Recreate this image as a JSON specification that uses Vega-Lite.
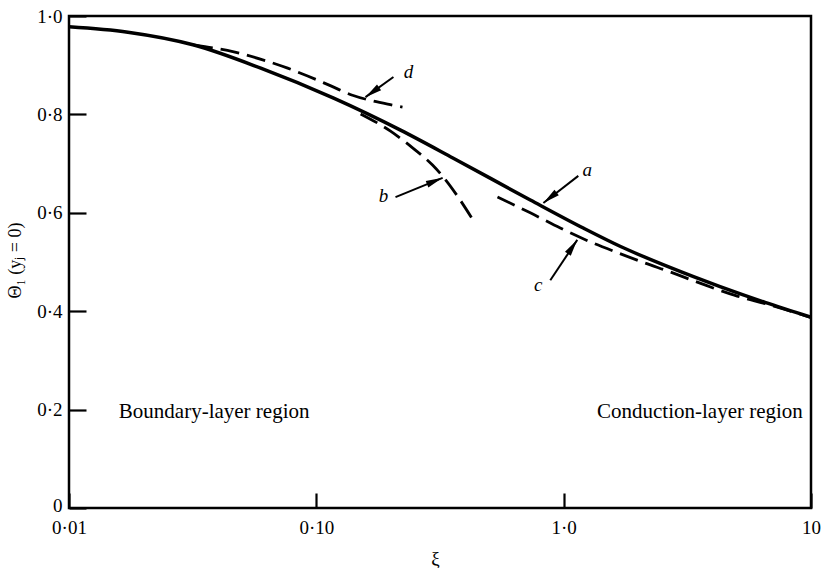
{
  "$schema": "https://vega.github.io/schema/vega-lite/v6.json",
  "width": 742,
  "height": 492,
  "autosize": {"type": "none"},
  "padding": {"left": 69, "top": 16, "right": 11, "bottom": 60},
  "background": "white",
  "config": {
    "view": {"stroke": "black", "strokeWidth": 2.5},
    "font": "Liberation Serif",
    "axis": {
      "grid": false,
      "domain": false,
      "ticks": true,
      "zindex": 1,
      "labelFont": "Liberation Serif",
      "labelFontSize": 19,
      "labelColor": "black",
      "tickColor": "black",
      "tickWidth": 2.2,
      "titleFont": "Liberation Serif",
      "titleFontWeight": "normal",
      "titleColor": "black",
      "labelFlush": false,
      "labelOverlap": false,
      "labelBound": false
    }
  },
  "datasets": {
    "curves": [
      {"curve": "a", "xi": 0.01, "theta": 0.978},
      {"curve": "a", "xi": 0.0173, "theta": 0.967},
      {"curve": "a", "xi": 0.032, "theta": 0.941},
      {"curve": "a", "xi": 0.0596, "theta": 0.894},
      {"curve": "a", "xi": 0.1175, "theta": 0.833},
      {"curve": "a", "xi": 0.219, "theta": 0.768},
      {"curve": "a", "xi": 0.358, "theta": 0.711},
      {"curve": "a", "xi": 0.733, "theta": 0.626},
      {"curve": "a", "xi": 1.2, "theta": 0.569},
      {"curve": "a", "xi": 1.69, "theta": 0.532},
      {"curve": "a", "xi": 2.69, "theta": 0.489},
      {"curve": "a", "xi": 4.29, "theta": 0.450},
      {"curve": "a", "xi": 6.52, "theta": 0.418},
      {"curve": "a", "xi": 10, "theta": 0.388},
      {"curve": "b", "xi": 0.151, "theta": 0.801},
      {"curve": "b", "xi": 0.1995, "theta": 0.766},
      {"curve": "b", "xi": 0.245, "theta": 0.732},
      {"curve": "b", "xi": 0.295, "theta": 0.697},
      {"curve": "b", "xi": 0.333, "theta": 0.667},
      {"curve": "b", "xi": 0.372, "theta": 0.634},
      {"curve": "b", "xi": 0.428, "theta": 0.587},
      {"curve": "c", "xi": 0.54, "theta": 0.632},
      {"curve": "c", "xi": 0.733, "theta": 0.6},
      {"curve": "c", "xi": 0.969, "theta": 0.569},
      {"curve": "c", "xi": 1.28, "theta": 0.541},
      {"curve": "c", "xi": 1.65, "theta": 0.519},
      {"curve": "c", "xi": 2.13, "theta": 0.498},
      {"curve": "c", "xi": 2.69, "theta": 0.48},
      {"curve": "c", "xi": 3.56, "theta": 0.457},
      {"curve": "c", "xi": 4.93, "theta": 0.432},
      {"curve": "c", "xi": 6.8, "theta": 0.413},
      {"curve": "c", "xi": 10, "theta": 0.387},
      {"curve": "d", "xi": 0.032, "theta": 0.941},
      {"curve": "d", "xi": 0.0464, "theta": 0.927},
      {"curve": "d", "xi": 0.0607, "theta": 0.911},
      {"curve": "d", "xi": 0.0766, "theta": 0.894},
      {"curve": "d", "xi": 0.0922, "theta": 0.878},
      {"curve": "d", "xi": 0.112, "theta": 0.86},
      {"curve": "d", "xi": 0.14, "theta": 0.839},
      {"curve": "d", "xi": 0.17, "theta": 0.827},
      {"curve": "d", "xi": 0.203, "theta": 0.819},
      {"curve": "d", "xi": 0.223, "theta": 0.815}
    ],
    "labels": [
      {"label": "a", "xi": 1.245, "theta": 0.687},
      {"label": "b", "xi": 0.187, "theta": 0.634},
      {"label": "c", "xi": 0.789, "theta": 0.453},
      {"label": "d", "xi": 0.236, "theta": 0.886}
    ],
    "arrows": [
      {"label": "a", "xi": 0.828, "theta": 0.62, "xi2": 1.146, "theta2": 0.675},
      {"label": "b", "xi": 0.324, "theta": 0.671, "xi2": 0.209, "theta2": 0.632},
      {"label": "c", "xi": 1.135, "theta": 0.545, "xi2": 0.883, "theta2": 0.463},
      {"label": "d", "xi": 0.158, "theta": 0.835, "xi2": 0.205, "theta2": 0.876}
    ],
    "regions": [
      {"side": "left", "text": "Boundary-layer region", "xi": 0.0159, "theta": 0.195},
      {"side": "right", "text": "Conduction-layer region", "xi": 9.27, "theta": 0.195}
    ]
  },
  "encoding": {
    "x": {
      "field": "xi",
      "type": "quantitative",
      "scale": {"type": "log", "domain": [0.01, 10], "nice": false},
      "axis": {
        "title": "ξ",
        "titleFontSize": 19,
        "titleX": 366,
        "titleY": 50,
        "titleBaseline": "middle",
        "values": [0.01, 0.1, 1, 10],
        "labelExpr": "datum.value < 0.05 ? '0·01' : datum.value < 0.5 ? '0·10' : datum.value < 5 ? '1·0' : '10'",
        "tickSize": -15,
        "labelPadding": 25
      }
    },
    "y": {
      "field": "theta",
      "type": "quantitative",
      "scale": {"domain": [0, 1], "nice": false, "zero": true},
      "axis": {
        "title": "Θ₁ (y\u2C7C = 0)",
        "titleFontSize": 18,
        "titleAngle": -90,
        "titleX": -71,
        "titleY": 244,
        "titleAlign": "center",
        "titleBaseline": "middle",
        "values": [0, 0.2, 0.4, 0.6, 0.8, 1],
        "labelExpr": "datum.value == 0 ? '0' : replace(format(datum.value, '.1f'), '.', '·')",
        "labelOffset": {"condition": {"test": "datum.value == 0", "value": -3}, "value": 0},
        "offset": -17,
        "tickSize": 17,
        "labelPadding": 7
      }
    }
  },
  "layer": [
    {
      "data": {"name": "curves"},
      "transform": [{"filter": "datum.curve == 'a'"}],
      "mark": {"type": "line", "color": "black", "strokeWidth": 3.5, "interpolate": "monotone"}
    },
    {
      "data": {"name": "curves"},
      "transform": [{"filter": "datum.curve != 'a'"}],
      "mark": {"type": "line", "color": "black", "strokeWidth": 2.8, "strokeDash": [19, 8], "interpolate": "monotone"},
      "encoding": {"detail": {"field": "curve"}}
    },
    {
      "data": {"name": "arrows"},
      "mark": {"type": "rule", "color": "black", "strokeWidth": 2},
      "encoding": {"x2": {"field": "xi2"}, "y2": {"field": "theta2"}}
    },
    {
      "data": {"name": "arrows"},
      "transform": [{"filter": "datum.label == 'a'"}],
      "mark": {"type": "point", "shape": "M0,0L0.5,2.4L-0.5,2.4Z", "filled": true, "color": "black", "opacity": 1, "size": 196, "angle": 232}
    },
    {
      "data": {"name": "arrows"},
      "transform": [{"filter": "datum.label == 'b'"}],
      "mark": {"type": "point", "shape": "M0,0L0.5,2.4L-0.5,2.4Z", "filled": true, "color": "black", "opacity": 1, "size": 196, "angle": 68}
    },
    {
      "data": {"name": "arrows"},
      "transform": [{"filter": "datum.label == 'c'"}],
      "mark": {"type": "point", "shape": "M0,0L0.5,2.4L-0.5,2.4Z", "filled": true, "color": "black", "opacity": 1, "size": 196, "angle": 34}
    },
    {
      "data": {"name": "arrows"},
      "transform": [{"filter": "datum.label == 'd'"}],
      "mark": {"type": "point", "shape": "M0,0L0.5,2.4L-0.5,2.4Z", "filled": true, "color": "black", "opacity": 1, "size": 196, "angle": 234}
    },
    {
      "data": {"name": "labels"},
      "mark": {"type": "text", "font": "Liberation Serif", "fontStyle": "italic", "fontSize": 19, "color": "black", "baseline": "middle", "align": "center"},
      "encoding": {"text": {"field": "label"}}
    },
    {
      "data": {"name": "regions"},
      "transform": [{"filter": "datum.side == 'left'"}],
      "mark": {"type": "text", "font": "Liberation Serif", "fontSize": 21, "color": "black", "baseline": "middle", "align": "left"},
      "encoding": {"text": {"field": "text"}}
    },
    {
      "data": {"name": "regions"},
      "transform": [{"filter": "datum.side == 'right'"}],
      "mark": {"type": "text", "font": "Liberation Serif", "fontSize": 21, "color": "black", "baseline": "middle", "align": "right"},
      "encoding": {"text": {"field": "text"}}
    }
  ]
}
